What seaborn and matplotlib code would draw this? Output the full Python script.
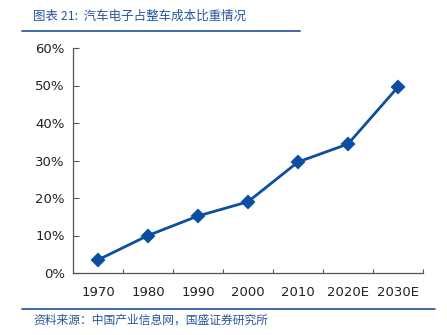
import matplotlib
matplotlib.use("Agg")
import matplotlib.pyplot as plt
import seaborn as sns
import pandas as pd
from matplotlib.ticker import FixedLocator, PercentFormatter

years = ["1970", "1980", "1990", "2000", "2010", "2020E", "2030E"]
share = [0.035, 0.10, 0.152, 0.19, 0.296, 0.344, 0.496]
yticks = [0, 0.1, 0.2, 0.3, 0.4, 0.5, 0.6]

sns.set_style("white")
plt.rcParams['font.family'] = ['Noto Sans CJK SC', 'DejaVu Sans']

df = pd.DataFrame({"year": years, "share": share})
color = "#0b4ea2"

fig = plt.figure(figsize=(4.47, 3.35), dpi=100)
ax = fig.add_axes([73/447, 1-273/335, 350/447, 225/335])
sns.pointplot(data=df, x="year", y="share", color=color, marker="D",
              markersize=6.5, linewidth=2, ax=ax)
ax.set_xlim(-0.5, 6.5)
ax.set_ylim(0, 0.6)
ax.set_yticks(yticks)
ax.yaxis.set_major_formatter(PercentFormatter(1.0, decimals=0))
ax.xaxis.set_minor_locator(FixedLocator([i + 0.5 for i in range(len(years))]))
ax.tick_params(axis="x", which="major", length=0, pad=9, labelsize=9.5, colors="#222222")
ax.tick_params(axis="x", which="minor", length=3, width=0.8, color="#555555", direction="in")
ax.tick_params(axis="y", which="major", length=4, width=0.8, color="#555555", direction="in",
               labelsize=9.5, labelcolor="#222222", pad=6)
for lab in ax.get_xticklabels() + ax.get_yticklabels():
    lab.set_family("DejaVu Sans")
ax.xaxis.set_ticks_position("bottom")
ax.yaxis.set_ticks_position("left")
for s in ["top", "right"]:
    ax.spines[s].set_visible(False)
for s in ["left", "bottom"]:
    ax.spines[s].set_color("#555555")
    ax.spines[s].set_linewidth(0.9)
ax.set_xlabel("")
ax.set_ylabel("")

fig.text(33/447, 1-16/335, "图表 21:  汽车电子占整车成本比重情况", fontsize=9,
         color="#2a5599", va="center", ha="left", style="italic")
fig.add_artist(plt.Line2D([22/447, 300/447], [1-31/335, 1-31/335], color="#1f4e9a", lw=1.2))
fig.add_artist(plt.Line2D([22/447, 435/447], [1-309/335, 1-309/335], color="#1f4e9a", lw=1.2))
fig.text(33/447, 1-320/335, "资料来源：中国产业信息网，国盛证券研究所", fontsize=8.5,
         color="#2a5599", va="center", ha="left", style="italic")

fig.savefig("out.png", dpi=100)
